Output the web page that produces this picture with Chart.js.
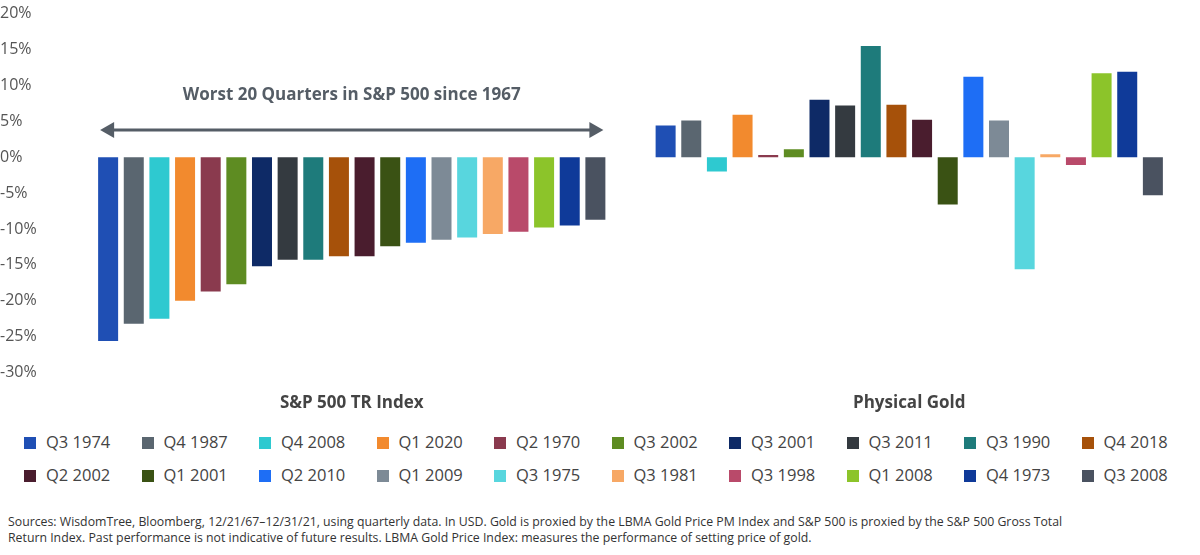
<!DOCTYPE html>
<html><head><meta charset="utf-8">
<script src="https://cdn.jsdelivr.net/npm/chart.js@4"></script>
<style>
body{margin:0;background:#fff;font-family:"Open Sans",sans-serif;width:1200px;height:555px;overflow:hidden}
#wrap{position:absolute;left:0;top:0;width:1200px;height:425px}
#legend{position:absolute;left:24px;top:430px;width:1175px;display:grid;grid-template-columns:repeat(10,1fr);row-gap:10px;font-size:16.5px;color:#444}
#legend span.b{display:inline-block;width:12px;height:12px;margin-right:10px;vertical-align:-1px}
#src{position:absolute;left:8px;top:514px;font-size:12.3px;color:#333;line-height:16px}
</style></head><body>
<div id="wrap"><canvas id="c"></canvas></div>
<div id="legend"></div>
<div id="src">Sources: WisdomTree, Bloomberg, 12/21/67–12/31/21, using quarterly data. In USD. Gold is proxied by the LBMA Gold Price PM Index and S&amp;P 500 is proxied by the S&amp;P 500 Gross Total<br>Return Index. Past performance is not indicative of future results. LBMA Gold Price Index: measures the performance of setting price of gold.</div>
<script>
const categories = ['S&P 500 TR Index', 'Physical Gold'];
const quarters = ['Q3 1974','Q4 1987','Q4 2008','Q1 2020','Q2 1970','Q3 2002','Q3 2001','Q3 2011','Q3 1990','Q4 2018',
  'Q2 2002','Q1 2001','Q2 2010','Q1 2009','Q3 1975','Q3 1981','Q3 1998','Q1 2008','Q4 1973','Q3 2008'];
const spReturns = [-25.6,-23.2,-22.5,-20.0,-18.7,-17.7,-15.2,-14.3,-14.3,-13.8,-13.8,-12.4,-11.9,-11.5,-11.2,-10.7,-10.4,-9.8,-9.5,-8.7];
const goldReturns = [4.4,5.1,-2.0,5.9,0.3,1.1,8.0,7.2,15.5,7.3,5.2,-6.6,11.2,5.1,-15.6,0.4,-1.1,11.7,11.9,-5.3];
const colors = ['#1f4fb4','#5a6670','#2ec9d0','#f28a2e','#8a3a4e','#5e8c22','#0e2a66','#343a40','#1e7b7b','#a6510a',
  '#4a1d2e','#3a5214','#1e6ef5','#7d8a96','#58d6de','#f7a865','#b94a6a','#8cc42a','#0f3a99','#4a5260'];
const yTicks = [-30,-25,-20,-15,-10,-5,0,5,10,15,20];

const arrowPlugin = {
  id: 'arrow',
  afterDatasetsDraw(chart) {
    const ctx = chart.ctx;
    const x1 = chart.getDatasetMeta(0).data[0].x - 8;
    const x2 = chart.getDatasetMeta(19).data[0].x + 8;
    const y = chart.scales.y.getPixelForValue(3.8);
    ctx.save();
    ctx.strokeStyle = '#555d66'; ctx.fillStyle = '#555d66'; ctx.lineWidth = 3;
    ctx.beginPath(); ctx.moveTo(x1 + 8, y); ctx.lineTo(x2 - 8, y); ctx.stroke();
    ctx.beginPath(); ctx.moveTo(x1, y); ctx.lineTo(x1 + 14, y - 8); ctx.lineTo(x1 + 14, y + 8); ctx.fill();
    ctx.beginPath(); ctx.moveTo(x2, y); ctx.lineTo(x2 - 14, y - 8); ctx.lineTo(x2 - 14, y + 8); ctx.fill();
    ctx.font = 'bold 17px "Open Sans"'; ctx.textAlign = 'center';
    ctx.fillStyle = '#555d66';
    ctx.fillText('Worst 20 Quarters in S&P 500 since 1967', (x1 + x2) / 2, chart.scales.y.getPixelForValue(8));
    ctx.restore();
  }
};

new Chart(document.getElementById('c'), {
  type: 'bar',
  data: {
    labels: categories,
    datasets: quarters.map((q, i) => ({
      label: q, data: [spReturns[i], goldReturns[i]], backgroundColor: colors[i]
    }))
  },
  options: {
    responsive: true, maintainAspectRatio: false, animation: false,
    layout: { padding: { top: 9, right: 12 } },
    categoryPercentage: 0.92, barPercentage: 0.78,
    plugins: { legend: { display: false }, tooltip: { enabled: false } },
    scales: {
      x: { grid: { display: false }, border: { display: false },
           ticks: { color: '#444', font: { size: 17, weight: 'bold', family: 'Open Sans' }, padding: 12 } },
      y: { min: -30, max: 20, grid: { display: false }, border: { display: false },
           afterFit: s => { s.width = 73; },
           afterBuildTicks: s => { s.ticks = yTicks.map(v => ({ value: v })); },
           ticks: { color: '#555', font: { size: 16, family: 'Open Sans' }, padding: 4, crossAlign: 'far', callback: v => v + '%' } }
    }
  },
  plugins: [arrowPlugin]
});

const lg = document.getElementById('legend');
quarters.forEach((q, i) => {
  const d = document.createElement('div');
  d.innerHTML = `<span class="b" style="background:${colors[i]}"></span>${q}`;
  lg.appendChild(d);
});
</script>
</body></html>
